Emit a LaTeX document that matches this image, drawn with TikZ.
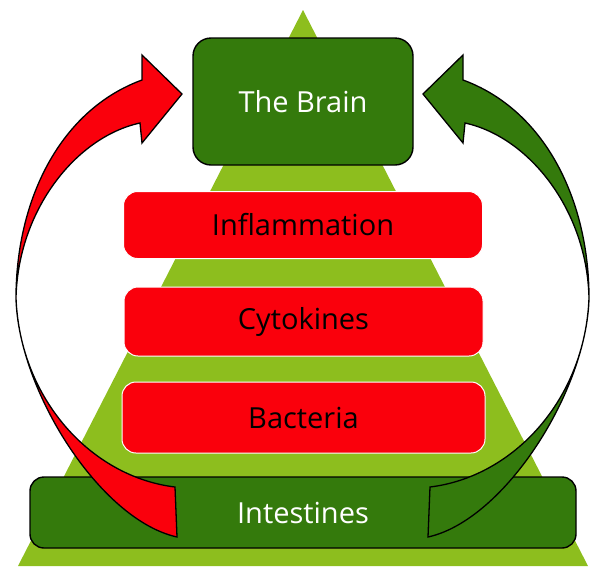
\documentclass[tikz,border=0pt]{standalone}
\usepackage{fontspec}
\setmainfont{Open Sans}

\definecolor{darkgreen}{RGB}{52,122,12}
\definecolor{lightgreen}{RGB}{141,190,30}
\definecolor{boxred}{RGB}{250,0,12}

\tikzset{
  green box/.style={draw=black, line width=1.4pt, fill=darkgreen, text=white,
    rounded corners=18pt},
  red box/.style={draw=white, line width=1pt, fill=boxred, text=black,
    rounded corners=14pt},
  pics/bent arrow/.style={code={
    \draw[line width=1.3pt, fill=#1]
      (140,123) -- (142,143) -- (182,94) -- (142,55) -- (142,80)
      .. controls (60,110) and (16,200) .. (16,298)
      .. controls (18,390) and (100,520) .. (177,537)
      -- (175,487)
      .. controls (92,477) and (20,400) .. (16,298)
      .. controls (18,210) and (76,137) .. (140,123) -- cycle;
  }}
}

\begin{document}
\begin{tikzpicture}[x=1pt, y=-1pt, font=\fontsize{29}{34}\selectfont]
\useasboundingbox (0,0) rectangle (595,566);

% pyramid
\fill[lightgreen] (303,10) -- (588,566) -- (18,566) -- cycle;

% levels
\node[green box, minimum width=220pt, minimum height=127pt] (brain) at (303,101.5) {The Brain};
\node[red box, minimum width=359pt, minimum height=67pt] (inflam) at (303,225) {Inflammation};
\node[red box, minimum width=359pt, minimum height=69pt] (cyto) at (303.5,321.5) {Cytokines};
\node[red box, minimum width=363pt, minimum height=71pt] (bact) at (303.5,417.5) {Bacteria};
\node[green box, minimum width=546pt, minimum height=71pt, rounded corners=14pt] (gut) at (303,512.5) {Intestines};

% arrows gut -> brain
\pic {bent arrow=boxred};
\pic[xscale=-1] at (605,0) {bent arrow=darkgreen};

\end{tikzpicture}
\end{document}
